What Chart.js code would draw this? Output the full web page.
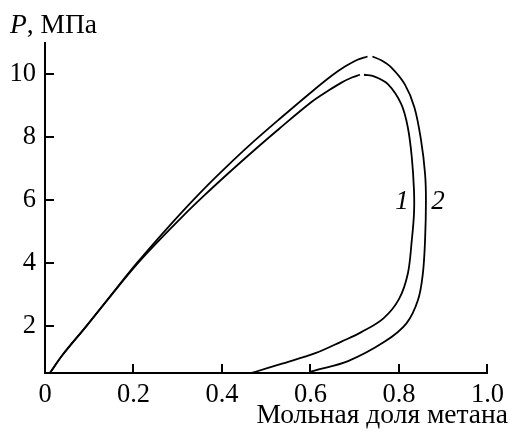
<!DOCTYPE html>
<html>
<head>
<meta charset="utf-8">
<script src="https://cdn.jsdelivr.net/npm/chart.js@4.4.1/dist/chart.umd.min.js"></script>
<style>
  html, body { margin: 0; padding: 0; background: #fff; }
  canvas { display: block; }
</style>
</head>
<body>
<canvas id="envelope" width="510" height="432"></canvas>
<script>
// Phase envelope, methane mole fraction vs pressure
const xTicks = [0, 0.2, 0.4, 0.6, 0.8, 1.0];
const yTicks = [2, 4, 6, 8, 10];

// curve 1 (inner), split at the critical point
const curve1Left = [
    [0.011, 0.5], [0.04, 1.08], [0.094, 2.0], [0.15, 2.98], [0.206, 3.93],
    [0.26, 4.75], [0.31, 5.47], [0.36, 6.15], [0.41, 6.8], [0.46, 7.43],
    [0.53, 8.28], [0.603, 9.13], [0.64, 9.48], [0.67, 9.74], [0.695, 9.91],
    [0.712, 9.99]
];
const curve1Right = [
    [0.721, 9.99], [0.745, 9.93], [0.775, 9.69], [0.805, 9.06], [0.82, 8.32],
    [0.829, 7.37], [0.834, 6.31], [0.834, 5.57], [0.829, 4.72], [0.82, 3.66],
    [0.80, 2.85], [0.765, 2.24], [0.715, 1.8], [0.67, 1.5], [0.611, 1.13],
    [0.536, 0.8], [0.476, 0.54], [0.466, 0.5]
];

// curve 2 (outer)
const curve2Left = [
    [0.011, 0.5], [0.04, 1.08], [0.094, 2.0], [0.15, 2.99], [0.206, 3.97],
    [0.26, 4.85], [0.31, 5.63], [0.36, 6.37], [0.41, 7.06], [0.46, 7.72],
    [0.53, 8.58], [0.603, 9.45], [0.65, 9.98], [0.678, 10.25], [0.705, 10.46],
    [0.729, 10.57]
];
const curve2Right = [
    [0.740, 10.57], [0.76, 10.45], [0.783, 10.22], [0.813, 9.69], [0.835, 8.95],
    [0.85, 7.9], [0.859, 6.84], [0.861, 5.99], [0.859, 4.72], [0.854, 3.66],
    [0.843, 2.82], [0.817, 2.08], [0.768, 1.5], [0.685, 0.88], [0.603, 0.55],
    [0.598, 0.5]
];

const curveLabels = [['1', 0.807, 5.95], ['2', 0.888, 5.95]];

const serif = '"Liberation Serif", "DejaVu Serif", serif';

function line(points) {
    return {
        data: points.map(p => ({ x: p[0], y: p[1] })),
        showLine: true,
        borderColor: '#000',
        borderWidth: 1.8,
        pointRadius: 0,
        tension: 0.35,
        fill: false
    };
}

// inward ticks, curve numbers and axis titles
const decorations = {
    id: 'decorations',
    afterDraw(chart) {
        const { ctx, scales: { x, y }, chartArea } = chart;
        ctx.save();
        ctx.strokeStyle = '#000';
        ctx.lineWidth = 2;
        ctx.beginPath();
        xTicks.forEach(v => {
            if (v === 0) return;
            const px = Math.round(x.getPixelForValue(v));
            ctx.moveTo(px, chartArea.bottom);
            ctx.lineTo(px, chartArea.bottom - 9);
        });
        yTicks.forEach(v => {
            const py = Math.round(y.getPixelForValue(v));
            ctx.moveTo(chartArea.left, py);
            ctx.lineTo(chartArea.left + 9, py);
        });
        ctx.stroke();

        ctx.fillStyle = '#000';
        ctx.textAlign = 'center';
        ctx.textBaseline = 'middle';
        ctx.font = 'italic 27px ' + serif;
        curveLabels.forEach(([t, vx, vy]) => {
            ctx.fillText(t, x.getPixelForValue(vx), y.getPixelForValue(vy));
        });

        ctx.textBaseline = 'alphabetic';
        ctx.textAlign = 'left';
        ctx.font = 'italic 27.5px ' + serif;
        ctx.fillText('P', 10, 33);
        const w = ctx.measureText('P').width;
        ctx.font = '27.5px ' + serif;
        ctx.fillText(', МПа', 10 + w, 33);

        ctx.textAlign = 'right';
        ctx.fillText('Мольная доля метана', 508, 423);
        ctx.restore();
    }
};

new Chart(document.getElementById('envelope'), {
    type: 'scatter',
    data: {
        datasets: [line(curve1Left), line(curve1Right), line(curve2Left), line(curve2Right)]
    },
    options: {
        responsive: false,
        animation: false,
        devicePixelRatio: 1,
        layout: { padding: { top: 43, right: 20, left: 0, bottom: 0 } },
        plugins: { legend: { display: false }, tooltip: { enabled: false } },
        scales: {
            x: {
                type: 'linear',
                min: 0,
                max: 1,
                grid: { display: false, drawTicks: false },
                border: { color: '#000', width: 2 },
                afterBuildTicks: s => { s.ticks = xTicks.map(v => ({ value: v })); },
                afterFit: s => { s.height = 59; },
                ticks: {
                    color: '#000',
                    padding: 6,
                    font: { family: serif, size: 26.5 },
                    callback: v => (v === 0 ? '0' : v.toFixed(1))
                }
            },
            y: {
                type: 'linear',
                min: 0.5,
                max: 11,
                grid: { display: false, drawTicks: false },
                border: { color: '#000', width: 2 },
                afterBuildTicks: s => { s.ticks = yTicks.map(v => ({ value: v })); },
                afterFit: s => { s.width = 45; },
                ticks: {
                    color: '#000',
                    padding: 9,
                    font: { family: serif, size: 26.5 },
                    callback: v => String(v)
                }
            }
        }
    },
    plugins: [decorations]
});
</script>
</body>
</html>
